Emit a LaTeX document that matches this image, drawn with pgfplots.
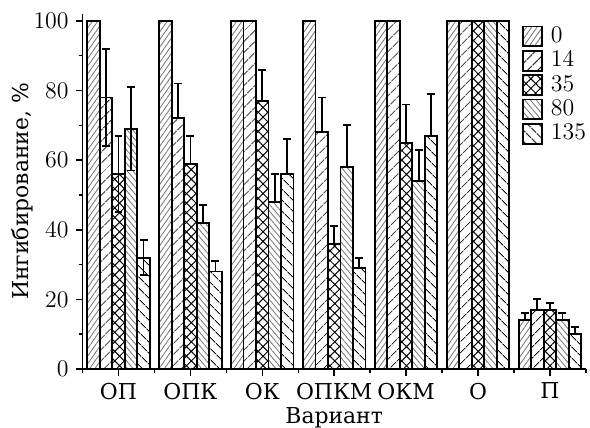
\documentclass[border=0pt]{standalone}
\usepackage{fontspec}
\setmainfont{DejaVu Serif}
\usepackage{pgfplots}
\usepackage{pgfplotstable}
\pgfplotsset{compat=1.18}
\usetikzlibrary{patterns.meta}

% x = variant index, y = inhibition, ep/em = error up/down
\pgfplotstableread{
x y ep em
0 100 0 0
1 100 0 0
2 100 0 0
3 100 0 0
4 100 0 0
5 100 0 0
6 14 2 0
}\tZero
\pgfplotstableread{
x y ep em
0 78 14 14
1 72 10 0
2 100 0 0
3 68 10 0
4 100 0 0
5 100 0 0
6 17 3 0
}\tFourteen
\pgfplotstableread{
x y ep em
0 56 11 11
1 59 8 0
2 77 9 0
3 36 5 0
4 65 11 0
5 100 0 0
6 17 2 0
}\tThirtyFive
\pgfplotstableread{
x y ep em
0 69 12 12
1 42 5 0
2 48 8 0
3 58 12 0
4 54 9 0
5 100 0 0
6 14 2 0
}\tEighty
\pgfplotstableread{
x y ep em
0 32 5 5
1 28 3 0
2 56 10 0
3 29 3 0
4 67 12 0
5 100 0 0
6 10 2 0
}\tOneThirtyFive

\pgfplotsset{
  legbox/.style={legend image code/.code={
    \draw[##1,line width=0.9pt] (0pt,-5pt) rectangle (9.5pt,5pt);}},
  barstyle/.style={draw=black, line width=0.9pt, legbox,
    error bars/y dir=both, error bars/y explicit,
    error bars/error bar style={line width=0.9pt,black},
    error bars/error mark options={rotate=90,mark size=2pt,line width=0.9pt,black}},
}

\begin{document}
\begin{tikzpicture}
\begin{axis}[
  name=ax,
  width=253pt, height=178.5pt, scale only axis,
  ybar,
  xmin=-0.5, xmax=6.5, ymin=0, ymax=102,
  axis x line=bottom, axis y line=left,
  axis line style={-, line width=0.75pt},
  tick align=outside, tick style={black, line width=0.75pt},
  major tick length=3.5pt, minor tick length=2pt,
  xtick={0,...,6},
  xticklabels={ОП,ОПК,ОК,ОПКМ,ОКМ,О,П},
  minor xtick={-0.5,0.5,...,6.5},
  ytick={0,20,...,100},
  minor ytick={10,30,...,90},
  xticklabel style={font=\fontsize{11}{13}\selectfont},
  yticklabel style={font=\fontsize{12.5}{14}\selectfont},
  label style={font=\fontsize{11}{13}\selectfont, inner sep=0pt},
  xlabel={Вариант},
  ylabel={Ингибирование, $\%$},
  xlabel style={at={(axis description cs:0.5,-0.107)}, anchor=north},
  ylabel style={at={(axis description cs:-0.097,0.5)}, anchor=south},
  legend style={at={(0.873,0.975)}, anchor=north west, draw=none, fill=none,
    inner sep=0pt, row sep=-1pt, font=\fontsize{12}{13}\selectfont,
    /tikz/every odd column/.append style={column sep=2pt}},
  legend cell align=left,
  clip=false,
]
\addplot[bar width=0.174, bar shift=-0.348, barstyle,
  pattern={Lines[angle=55,distance=2.2pt,line width=0.4pt]}, pattern color=black!55]
  table[x=x,y=y,y error plus=ep,y error minus=em] {\tZero};
\addlegendentry{$0$}
\addplot[bar width=0.174, bar shift=-0.174, barstyle,
  pattern={Lines[angle=45,distance=4pt,line width=0.5pt]}, pattern color=black]
  table[x=x,y=y,y error plus=ep,y error minus=em] {\tFourteen};
\addlegendentry{$14$}
\addplot[bar width=0.174, bar shift=0, barstyle,
  pattern={Hatch[angle=45,distance=3.4pt,line width=0.5pt]}, pattern color=black]
  table[x=x,y=y,y error plus=ep,y error minus=em] {\tThirtyFive};
\addlegendentry{$35$}
\addplot[bar width=0.174, bar shift=0.174, barstyle,
  pattern={Lines[angle=-50,distance=2.2pt,line width=0.4pt]}, pattern color=black!55]
  table[x=x,y=y,y error plus=ep,y error minus=em] {\tEighty};
\addlegendentry{$80$}
\addplot[bar width=0.174, bar shift=0.348, barstyle,
  pattern={Lines[angle=-45,distance=4pt,line width=0.5pt]}, pattern color=black]
  table[x=x,y=y,y error plus=ep,y error minus=em] {\tOneThirtyFive};
\addlegendentry{$135$}
\end{axis}
\path (ax.south west) ++(-41.5pt,-28pt);
\path (ax.north east) ++(0.5pt,7pt);
\end{tikzpicture}
\end{document}
